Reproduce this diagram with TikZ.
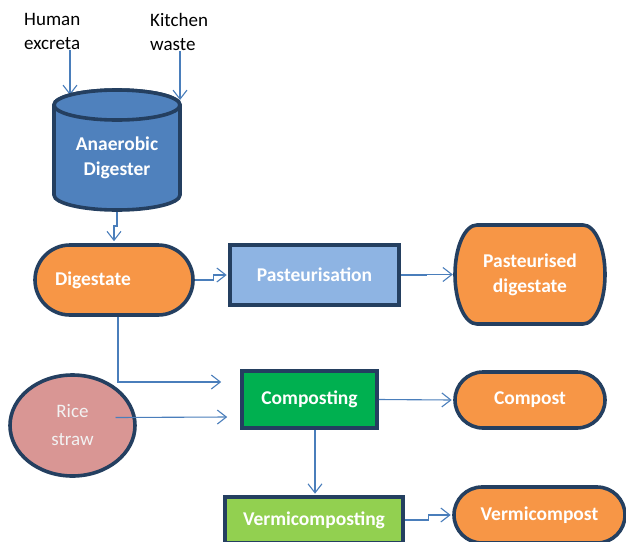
\documentclass[tikz,border=0pt]{standalone}
\usepackage{fontspec}
\setmainfont{Carlito}
\usetikzlibrary{arrows.meta,shapes.geometric,calc}
\definecolor{bord}{HTML}{243F60}
\definecolor{cylblue}{HTML}{4F81BD}
\definecolor{orng}{HTML}{F79646}
\definecolor{pastblue}{HTML}{8EB4E3}
\definecolor{compgreen}{HTML}{00B050}
\definecolor{vermgreen}{HTML}{92D050}
\definecolor{ricepink}{HTML}{D99694}
\definecolor{linkblue}{HTML}{4A7EBB}
\tikzset{
  conn/.style={draw=linkblue, line width=1.1pt, -{Straight Barb[length=9pt,width=14pt,line width=1.1pt]}},
  shapebord/.style={draw=bord, line width=3.6pt},
  lbl/.style={text=white, font=\fontsize{19.5}{25}\selectfont\bfseries, align=center},
  plain/.style={font=\fontsize{19}{24.5}\selectfont, align=left, inner sep=0pt, anchor=north west},
  boxnode/.style={shapebord, rectangle, lbl, inner sep=0pt},
  stadium/.style={shapebord, rectangle, lbl, inner sep=0pt, fill=orng}
}
\begin{document}
\begin{tikzpicture}[x=1pt,y=-1pt]
\useasboundingbox (0,0) rectangle (626,541);
\clip (0,0) rectangle (626,541);
\fill[white] (0,0) rectangle (626,541);

% inputs
\node[plain] (he) at (24,13) {Human\\excreta};
\node[plain] (kw) at (150,13) {Kitchen\\waste};
\coordinate (hin) at (70,95);
\coordinate (kin) at (180,100);
\draw[conn] (hin |- he.south) -- (hin);
\draw[conn] (kin |- kw.south) -- (kin);

% cylinder
\draw[shapebord, fill=cylblue] (54,105) -- (54,195)
  arc[start angle=180, end angle=360, x radius=63pt, y radius=15pt] -- (180,105)
  arc[start angle=0, end angle=180, x radius=63pt, y radius=15pt] -- cycle;
\draw[shapebord, fill=cylblue] (117,105) ellipse[x radius=63pt, y radius=15pt];
\node[lbl] (ad) at (117,158) {Anaerobic\\Digester};
\coordinate (adb) at (117,212);

% digestate
\node[stadium, rounded corners=35pt, minimum width=158pt, minimum height=70pt,
      text width=118pt, align=left, inner xsep=20pt] (dig) at (114,280) {Digestate};
\draw[conn] (adb) -- ++(0,14) -| ([yshift=2pt]dig.north);

% pasteurisation
\node[boxnode, fill=pastblue, minimum width=169pt, minimum height=60pt] (past) at (314.5,275) {Pasteurisation};
\draw[conn, shorten >=1.5pt] (dig.east) -- ++(19,0) |- (past.west);

% pasteurised digestate
\draw[shapebord, fill=orng] (477,225) -- (583,225)
  arc[start angle=90, end angle=-90, x radius=22pt, y radius=49.5pt] -- (477,324)
  arc[start angle=270, end angle=90, x radius=22pt, y radius=49.5pt] -- cycle;
\node[lbl, minimum width=150pt, minimum height=99pt] (pd) at (530,274.5) {Pasteurised\\digestate};
\draw[conn] (past.east) -- ++(26,0) |- ([xshift=-2pt]pd.west);

% composting
\node[boxnode, fill=compgreen, minimum width=135pt, minimum height=57pt] (comp) at (309.5,399.5) {Composting};
\coordinate (cin1) at ($(comp.west)+(-19,-17.5)$);
\coordinate (cin2) at ($(comp.west)+(-13,17.5)$);
\draw[conn] ($(dig.south)+(4,0)$) |- (cin1);

% rice straw
\node[shapebord, ellipse, fill=ricepink, minimum width=125pt, minimum height=101pt, inner sep=0pt,
      text=white!95!black, font=\fontsize{19}{28}\selectfont, align=center] (rice) at (72.5,425.5) {Rice\\straw};
\draw[conn] ($(rice.center)+(43,-8)$) -- (cin2);

% compost
\node[stadium, rounded corners=28pt, minimum width=150pt, minimum height=56pt] (cpst) at (530,400) {Compost};
\draw[conn] (comp.east) -- ([xshift=-1.5pt]cpst.west);

% vermicomposting
\node[boxnode, fill=vermgreen, minimum width=178pt, minimum height=46pt] (vc) at (314,520) {Vermicomposting};
\coordinate (vcx) at ($(comp.south)+(5.5,0)$);
\draw[conn, shorten >=1.5pt] (vcx) -- (vcx |- vc.north);

% vermicompost
\node[stadium, rounded corners=28pt, minimum width=171pt, minimum height=56pt] (vcp) at (539.5,515) {Vermicompost};
\draw[conn] (vc.east) -- ++(24,0) |- ([xshift=-1.5pt]vcp.west);
\end{tikzpicture}
\end{document}
